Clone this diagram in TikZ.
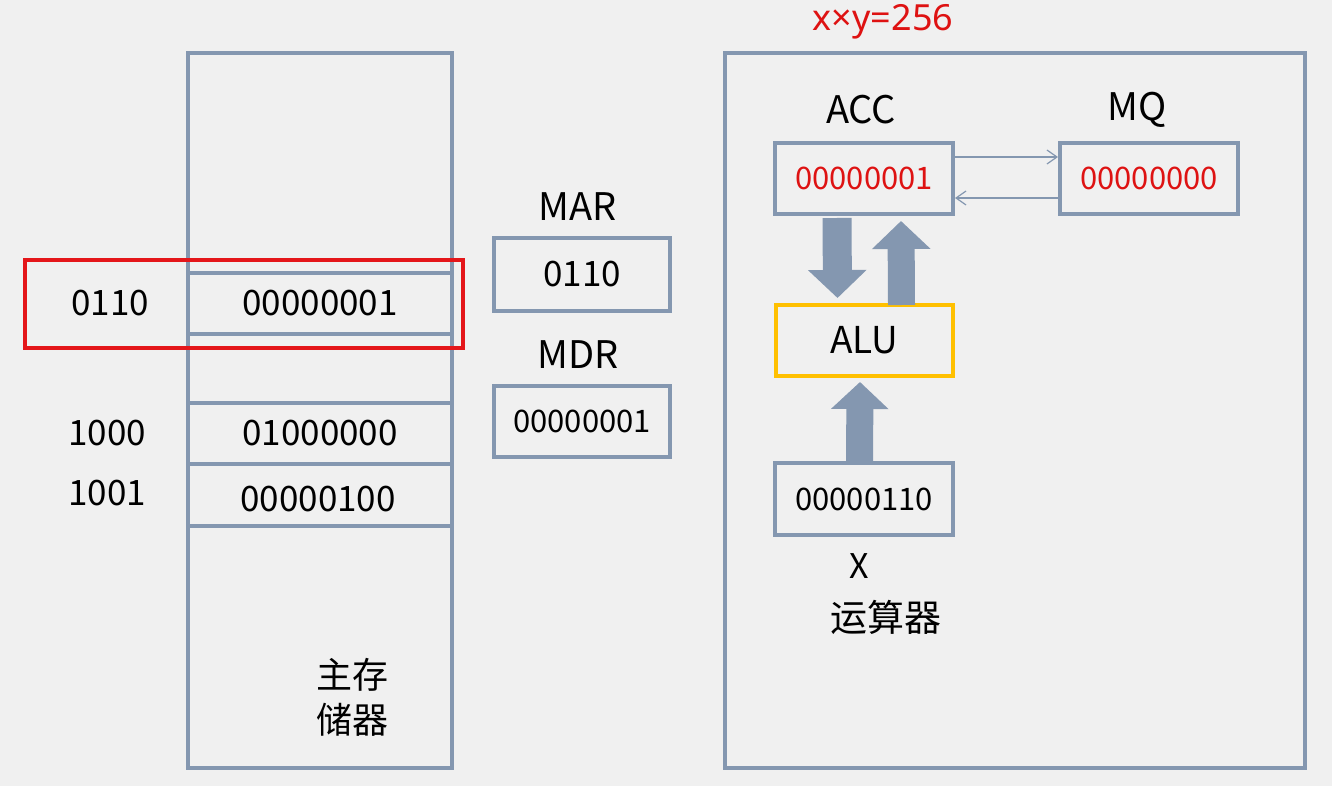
\documentclass[tikz,border=0pt]{standalone}
\usepackage{fontspec}
\setmainfont{Noto Sans CJK SC}
\newfontfamily\lat{Noto Sans}
\usetikzlibrary{arrows.meta}
\definecolor{bgc}{RGB}{240,240,240}
\definecolor{bc}{RGB}{132,151,176}
\definecolor{redc}{RGB}{228,22,26}
\definecolor{redt}{RGB}{222,18,18}
\definecolor{orc}{RGB}{255,192,0}
\newcommand{\fs}[1]{\fontsize{#1}{#1}\selectfont}
\begin{document}
\begin{tikzpicture}[x=1pt,y=-1pt,
  box/.style={draw=bc,line width=4pt,inner sep=0pt,minimum width=178pt,minimum height=71pt},
  lbl/.style={inner sep=0pt,font=\fs{38}},
  cell/.style={box,minimum width=264pt,minimum height=61pt,font=\fs{35}},
  big/.style={draw=bc,line cap=butt},
  thin/.style={draw=bc,line width=1.2pt,-{Straight Barb[length=10pt,width=14pt]}}]
\fill[bgc] (0,0) rectangle (1332,786);
\useasboundingbox (0,0) rectangle (1332,786);
% main memory
\node[box,minimum width=264pt,minimum height=715pt] (mem) at (320,410.5) {};
\node[cell] (r1) at (320,303.5) {00000001};
\node[cell] (r2) at (320,433.5) {01000000};
\node[cell,minimum height=62pt] (r3) at (320,495) {};
\node[lbl,font=\fs{35}] (r3t) at (318,499) {00000100};
\node[draw=redc,line width=4pt,minimum width=438pt,minimum height=88pt,inner sep=0pt] (sel) at (244,304) {};
\node[lbl,font=\fs{35}] (a1) at (110,303) {0110};
\node[lbl,font=\fs{35}] (a2) at (107,433) {1000};
\node[lbl,font=\fs{35}] (a3) at (107,493) {1001};
\node[lbl,font=\fs{36},align=center] (memlbl) at (352,697) {主存\\[9pt]储器};
% MAR / MDR
\node[lbl] (marl) at (578,207) {MAR};
\node[box,minimum width=176pt,minimum height=72pt,font=\fs{35}] (mar) at (582,274.5) {0110};
\node[lbl] (mdrl) at (578,355) {MDR};
\node[box,minimum width=176pt,font=\fs{31}] (mdr) at (582,421.5) {00000001};
% ALU unit
\node[lbl,text=redt,font=\lat\fs{36}] (title) at (883,22) {x×y=256};
\node[box,minimum width=580pt,minimum height=715pt] (cpu) at (1015,410.5) {};
\node[lbl] (accl) at (861,110) {ACC};
\node[box,font=\fs{31},text=redt] (acc) at (864,178.5) {00000001};
\node[lbl] (mql) at (1137,110) {MQ};
\node[box,font=\fs{31},text=redt] (mq) at (1149,178.5) {00000000};
\node[box,draw=orc,minimum width=177pt,font=\fs{37}] (alu) at (864.5,340.5) {ALU};
\node[box,minimum height=72pt,font=\fs{31}] (xr) at (864,499) {00000110};
\node[lbl,font=\fs{34}] (xl) at (859,566) {X};
\node[lbl,font=\fs{37}] (yq) at (886,617) {运算器};
% thin arrows
\draw[thin] ([yshift=21.5pt]acc.east) -- ([yshift=21.5pt]acc.east -| mq.west);
\draw[thin] ([yshift=-19.5pt]mq.west) -- ([yshift=-19.5pt]mq.west -| acc.east);
% block arrows
\draw[big,line width=29pt,-{Triangle[width=57pt,length=28pt]}]
  ([xshift=-27pt,yshift=-2pt]acc.south) -- ([xshift=-27pt,yshift=5pt]alu.north);
\draw[big,line width=27pt,-{Triangle[width=57pt,length=28pt]}]
  ([xshift=37pt,yshift=-2pt]alu.north) -- ([xshift=37pt,yshift=-5pt]acc.south);
\draw[big,line width=27pt,-{Triangle[width=56pt,length=27pt]}]
  ([xshift=-4.5pt,yshift=-2pt]xr.north) -- ([xshift=-4.5pt,yshift=-4pt]alu.south);
\end{tikzpicture}
\end{document}
